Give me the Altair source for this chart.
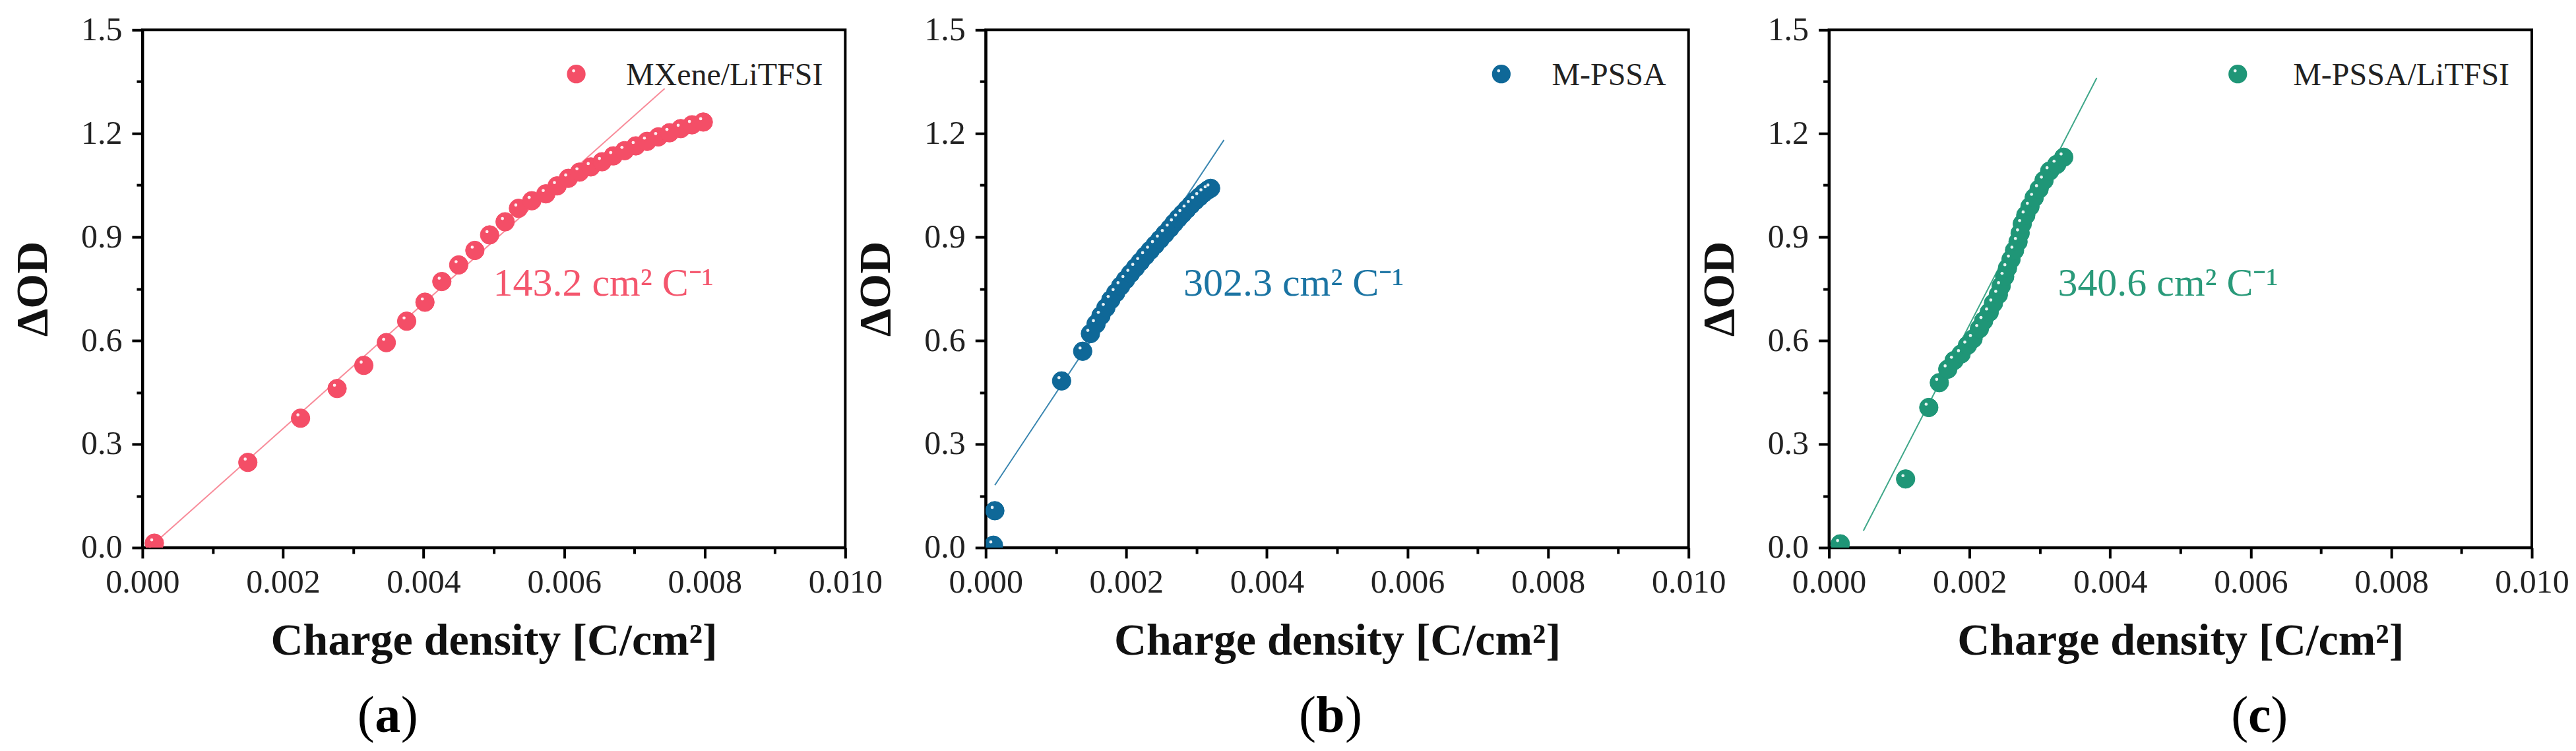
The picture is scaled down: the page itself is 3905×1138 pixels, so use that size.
import altair as alt
import pandas as pd

# (a) MXene/LiTFSI
a_x = [0.00017, 0.00150, 0.00225, 0.00277, 0.00315, 0.00347, 0.00376, 0.00402,
       0.00426, 0.00450, 0.00473, 0.00494, 0.00516, 0.00535, 0.00554, 0.00574,
       0.00590, 0.00606, 0.00622, 0.00638, 0.00654, 0.00670, 0.00686, 0.00702,
       0.00718, 0.00734, 0.00750, 0.00766, 0.00782, 0.00798]
a_y = [0.013, 0.247, 0.375, 0.461, 0.528, 0.594, 0.656, 0.711,
       0.771, 0.819, 0.861, 0.906, 0.944, 0.983, 1.005, 1.025,
       1.048, 1.070, 1.088, 1.103, 1.118, 1.135, 1.150, 1.164,
       1.177, 1.190, 1.202, 1.214, 1.225, 1.233]
a_fit_x = [0.00010, 0.00743]
a_fit_y = [0.000, 1.330]

# (b) M-PSSA
b_x = [0.00011, 0.00013, 0.00108, 0.00138, 0.00149, 0.00157, 0.00164, 0.00171,
       0.00178, 0.00185, 0.00192, 0.00199, 0.00206, 0.00213, 0.00220, 0.00227,
       0.00234, 0.00241, 0.00248, 0.00255, 0.00262, 0.00268, 0.00274, 0.00280,
       0.00286, 0.00292, 0.00298, 0.00304, 0.00310, 0.00316, 0.00320]
b_y = [0.007, 0.107, 0.483, 0.569, 0.620, 0.648, 0.672, 0.695,
       0.718, 0.738, 0.758, 0.776, 0.794, 0.811, 0.828, 0.845,
       0.861, 0.877, 0.893, 0.909, 0.925, 0.940, 0.954, 0.967,
       0.980, 0.993, 1.005, 1.016, 1.027, 1.036, 1.041]
b_fit_x = [0.00013, 0.00339]
b_fit_y = [0.181, 1.181]

# (c) M-PSSA/LiTFSI
c_x = [0.00016, 0.00109, 0.00142, 0.00157, 0.00169, 0.00178, 0.00188, 0.00197,
       0.00205, 0.00214, 0.00220, 0.00228, 0.00234, 0.00241, 0.00245, 0.00250,
       0.00254, 0.00259, 0.00264, 0.00269, 0.00272, 0.00275, 0.00280, 0.00286,
       0.00292, 0.00299, 0.00306, 0.00314, 0.00324, 0.00334]
c_y = [0.011, 0.199, 0.406, 0.478, 0.517, 0.542, 0.561, 0.586,
       0.605, 0.634, 0.657, 0.682, 0.708, 0.733, 0.758, 0.785,
       0.810, 0.835, 0.861, 0.886, 0.911, 0.938, 0.963, 0.988,
       1.014, 1.039, 1.064, 1.091, 1.110, 1.131]
c_fit_x = [0.00049, 0.00381]
c_fit_y = [0.049, 1.361]

x_ticks = [0.0, 0.001, 0.002, 0.003, 0.004, 0.005, 0.006, 0.007, 0.008, 0.009, 0.010]
y_ticks = [0.0, 0.15, 0.3, 0.45, 0.6, 0.75, 0.9, 1.05, 1.2, 1.35, 1.5]

SERIF = "Liberation Serif"
W, H = 1066, 785

x_major = "round(datum.value * 1000) % 2 === 0"
y_major = "round(datum.value * 100 / 15) % 2 === 0"

x_enc = alt.X(
    "x:Q",
    title="Charge density [C/cm²]",
    scale=alt.Scale(domain=[0, 0.01], nice=False, zero=False),
    axis=alt.Axis(
        values=x_ticks,
        labelExpr=f"{x_major} ? format(datum.value, '.3f') : ''",
        tickSize={"condition": {"test": x_major, "value": 16}, "value": 9},
        labelFont=SERIF,
        labelFontSize=50,
        labelPadding=12,
        titlePadding=30,
        labelFlush=False,
        labelOverlap=False,
    ),
)
y_enc = alt.Y(
    "y:Q",
    title="ΔOD",
    scale=alt.Scale(domain=[0, 1.5], nice=False),
    axis=alt.Axis(
        values=y_ticks,
        labelExpr=f"{y_major} ? format(datum.value, '.1f') : ''",
        tickSize={"condition": {"test": y_major, "value": 16}, "value": 9},
        labelFont=SERIF,
        labelFontSize=50,
        labelPadding=15,
        titlePadding=38,
        labelOverlap=False,
    ),
)


def panel(xs, ys, fit_x, fit_y, dot_color, line_color, text_color,
          legend_label, legend_dot_x, slope, slope_x, tag, tag_x, tag_half):
    pts = pd.DataFrame({"x": xs, "y": ys})
    fit = pd.DataFrame({"x": fit_x, "y": fit_y})
    one = pd.DataFrame({"t": [0]})

    line = alt.Chart(fit).mark_line(color=line_color, strokeWidth=2, clip=True).encode(x=x_enc, y=y_enc)
    dots = alt.Chart(pts).mark_circle(
        size=800, opacity=1, color=dot_color, stroke=dot_color, strokeWidth=1, clip=True
    ).encode(x=x_enc, y=y_enc)
    shine = alt.Chart(pts).mark_circle(
        size=22, opacity=0.9, color="white", xOffset=-4, yOffset=-5, clip=True
    ).encode(x=x_enc, y=y_enc)

    leg_dot = alt.Chart(one).mark_circle(size=800, opacity=1, color=dot_color).encode(
        x=alt.value(legend_dot_x), y=alt.value(67))
    leg_shine = alt.Chart(one).mark_circle(size=22, opacity=0.9, color="white").encode(
        x=alt.value(legend_dot_x - 4), y=alt.value(62))
    leg_text = alt.Chart(one).mark_text(
        align="right", baseline="middle", font=SERIF, fontSize=48, color="#222"
    ).encode(x=alt.value(1032), y=alt.value(70), text=alt.value(legend_label))

    slope_text = alt.Chart(one).mark_text(
        align="left", baseline="alphabetic", font=SERIF, fontSize=60, color=text_color
    ).encode(x=alt.value(slope_x), y=alt.value(403), text=alt.value(slope))

    tag_style = dict(baseline="middle", font=SERIF, fontSize=78, color="black")
    tag_open = alt.Chart(one).mark_text(align="right", **tag_style).encode(
        x=alt.value(tag_x - tag_half), y=alt.value(1041), text=alt.value("("))
    tag_mid = alt.Chart(one).mark_text(align="center", fontWeight="bold", **tag_style).encode(
        x=alt.value(tag_x), y=alt.value(1041), text=alt.value(tag))
    tag_close = alt.Chart(one).mark_text(align="left", **tag_style).encode(
        x=alt.value(tag_x + tag_half), y=alt.value(1041), text=alt.value(")"))

    return alt.layer(
        line, dots, shine, leg_dot, leg_shine, leg_text, slope_text,
        tag_open, tag_mid, tag_close,
    ).properties(width=W, height=H)


pa = panel(a_x, a_y, a_fit_x, a_fit_y, "#F44E67", "#F88C9A", "#F4566D",
           "MXene/LiTFSI", 658, "143.2 cm² C⁻¹", 532, "a", 372, 20)
pb = panel(b_x, b_y, b_fit_x, b_fit_y, "#0F6898", "#3A86B0", "#1B74A3",
           "M-PSSA", 782, "302.3 cm² C⁻¹", 300, "b", 523, 22)
pc = panel(c_x, c_y, c_fit_x, c_fit_y, "#1F9677", "#3FA789", "#2A9A7A",
           "M-PSSA/LiTFSI", 620, "340.6 cm² C⁻¹", 347, "c", 653, 17)

chart = (
    alt.hconcat(pa, pb, pc, spacing=213, bounds="flush")
    .properties(padding={"left": 6, "top": 10, "right": 0, "bottom": 0})
    .configure_view(stroke="black", strokeWidth=4)
    .configure_axis(
        domainColor="black",
        domainWidth=4,
        tickColor="black",
        tickWidth=4,
        grid=False,
        labelFont=SERIF,
        labelFontSize=50,
        labelColor="#222",
        titleFont=SERIF,
        titleFontSize=68,
        titleFontWeight="bold",
        titleColor="#111",
    )
)

chart.save("out.html", embed_options={"renderer": "svg", "actions": False})
